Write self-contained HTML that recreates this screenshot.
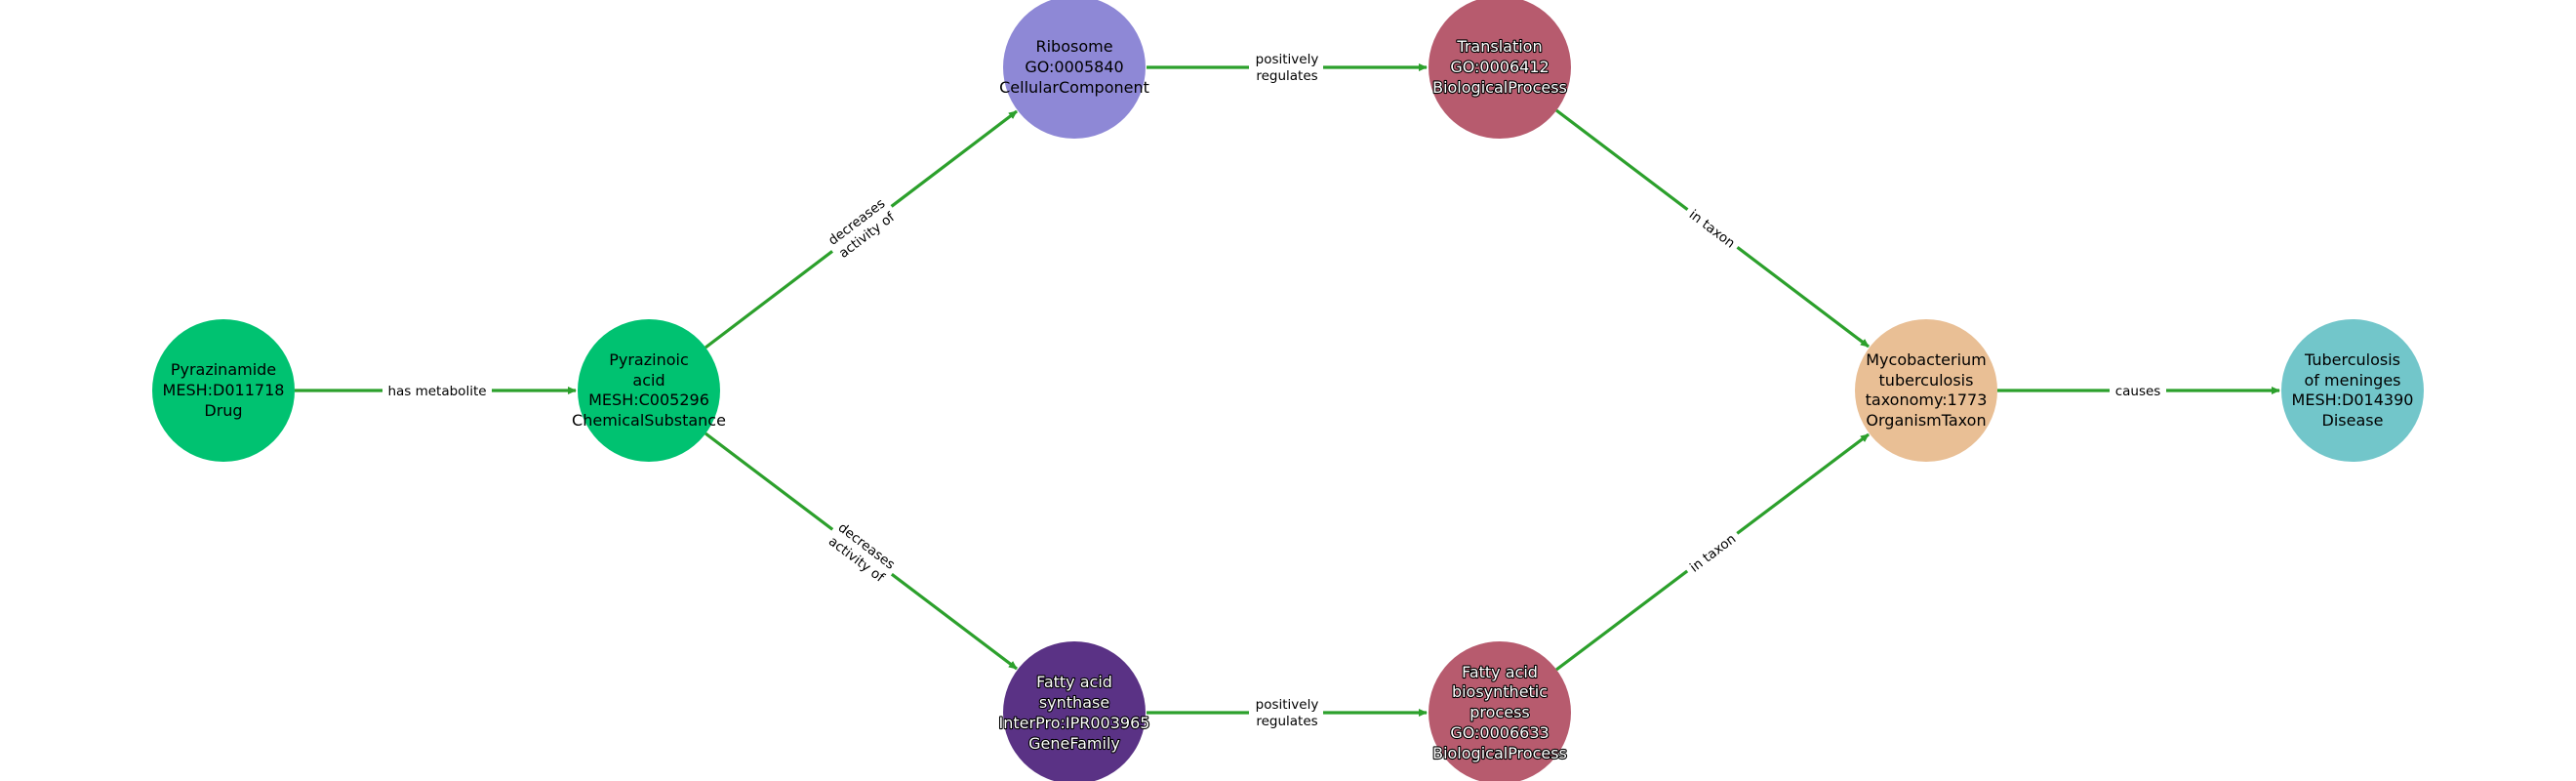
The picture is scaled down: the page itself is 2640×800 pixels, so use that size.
<!DOCTYPE html>
<html><head><meta charset="utf-8"><style>
html,body{margin:0;padding:0;background:#fff;}
svg{display:block;}
.n{font-family:"DejaVu Sans","Liberation Sans",sans-serif;font-size:16px;text-anchor:middle;fill:#000;}
.w{fill:#fff;stroke:#000;stroke-width:2.2px;paint-order:stroke;stroke-linejoin:round;}
.e{font-family:"DejaVu Sans","Liberation Sans",sans-serif;font-size:13.5px;text-anchor:middle;fill:#000;}
</style></head><body>
<svg width="2640" height="800" viewBox="0 0 2640 800" xmlns="http://www.w3.org/2000/svg">
<defs>
<marker id="a" markerWidth="10" markerHeight="10" refX="8" refY="5" orient="auto" markerUnits="userSpaceOnUse">
<path d="M0,1 L9,5 L0,9 Z" fill="#2ca02c"/>
</marker>
</defs>
<g stroke="#2ca02c" stroke-width="3.2" fill="none" marker-end="url(#a)">
<line x1="302" y1="400" x2="590" y2="400"/>
<line x1="723" y1="356" x2="1042" y2="114"/>
<line x1="723" y1="444" x2="1042" y2="685"/>
<line x1="1175" y1="69" x2="1462" y2="69"/>
<line x1="1175" y1="730" x2="1462" y2="730"/>
<line x1="1595" y1="113" x2="1915" y2="355"/>
<line x1="1595" y1="686" x2="1915" y2="445"/>
<line x1="2047" y1="400" x2="2336" y2="400"/>
</g>
<!-- edge label backgrounds -->
<g fill="#fff">
<rect x="392" y="390" width="112" height="20"/>
<rect x="1280" y="50" width="76" height="38"/>
<rect x="1280" y="711" width="76" height="38"/>
<rect x="2162" y="390" width="58" height="20"/>
<rect x="-38" y="-19" width="76" height="38" transform="translate(883,234) rotate(-37.2)"/>
<rect x="-38" y="-19" width="76" height="38" transform="translate(883,566) rotate(37.2)"/>
<rect x="-32" y="-10" width="64" height="20" transform="translate(1755,234) rotate(37.1)"/>
<rect x="-32" y="-10" width="64" height="20" transform="translate(1755,566) rotate(-37.1)"/>
</g>
<g class="e">
<text x="448" y="405">has metabolite</text>
<text x="1319" y="65">positively</text><text x="1319" y="82">regulates</text>
<text x="1319" y="726">positively</text><text x="1319" y="743">regulates</text>
<text x="2191" y="405">causes</text>
<g transform="translate(883,234) rotate(-37.2)"><text x="0" y="-4">decreases</text><text x="0" y="13">activity of</text></g>
<g transform="translate(883,566) rotate(37.2)"><text x="0" y="-4">decreases</text><text x="0" y="13">activity of</text></g>
<g transform="translate(1755,234) rotate(37.1)"><text x="0" y="5">in taxon</text></g>
<g transform="translate(1755,566) rotate(-37.1)"><text x="0" y="5">in taxon</text></g>
</g>
<!-- nodes -->
<circle cx="229" cy="400" r="73" fill="#00c271"/>
<circle cx="665" cy="400" r="73" fill="#00c271"/>
<circle cx="1101" cy="69" r="73" fill="#8e88d6"/>
<circle cx="1101" cy="730" r="73" fill="#5a3285"/>
<circle cx="1537" cy="69" r="73" fill="#b75b6e"/>
<circle cx="1537" cy="730" r="73" fill="#b75b6e"/>
<circle cx="1974" cy="400" r="73" fill="#e9bf95"/>
<circle cx="2411" cy="400" r="73" fill="#72c6ca"/>
<g class="n">
<text x="229" y="384">Pyrazinamide</text><text x="229" y="405">MESH:D011718</text><text x="229" y="426">Drug</text>
<text x="665" y="374">Pyrazinoic</text><text x="665" y="395">acid</text><text x="665" y="415">MESH:C005296</text><text x="665" y="436">ChemicalSubstance</text>
<text x="1101" y="53">Ribosome</text><text x="1101" y="74">GO:0005840</text><text x="1101" y="95">CellularComponent</text>
<text x="1974" y="374">Mycobacterium</text><text x="1974" y="395">tuberculosis</text><text x="1974" y="415">taxonomy:1773</text><text x="1974" y="436">OrganismTaxon</text>
<text x="2411" y="374">Tuberculosis</text><text x="2411" y="395">of meninges</text><text x="2411" y="415">MESH:D014390</text><text x="2411" y="436">Disease</text>
</g>
<g class="n w">
<text x="1537" y="53">Translation</text><text x="1537" y="74">GO:0006412</text><text x="1537" y="95">BiologicalProcess</text>
<text x="1101" y="704">Fatty acid</text><text x="1101" y="725">synthase</text><text x="1101" y="746">InterPro:IPR003965</text><text x="1101" y="767">GeneFamily</text>
<text x="1537" y="694">Fatty acid</text><text x="1537" y="714">biosynthetic</text><text x="1537" y="735">process</text><text x="1537" y="756">GO:0006633</text><text x="1537" y="777">BiologicalProcess</text>
</g>
</svg>
</body></html>
